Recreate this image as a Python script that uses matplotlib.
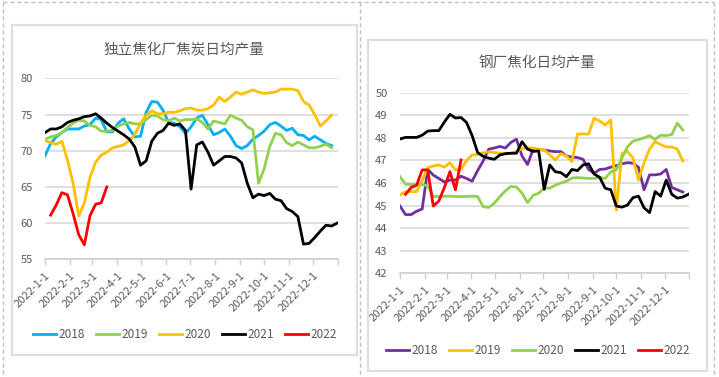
import numpy as np
import pandas as pd
import matplotlib
matplotlib.use('Agg')
import matplotlib.pyplot as plt
from matplotlib.lines import Line2D
from matplotlib.patches import Rectangle

plt.rcParams['font.family'] = ['Liberation Sans Narrow', 'Noto Sans CJK SC', 'DejaVu Sans']

# weekly dates, starting 2022-1-1
weeks = pd.date_range('2022-01-01', periods=53, freq='7D')
years = ['2018', '2019', '2020', '2021', '2022']

# 独立焦化厂焦炭日均产量
coke_2018 = [69.3, 71.0, 71.9, 72.5, 73.0, 73.0, 73.0, 73.4, 73.6, 74.5, 74.3, 72.6, 72.6, 73.8, 74.4,
             73.0, 71.9, 72.0, 75.3, 76.8, 76.7, 75.6, 73.9, 73.8, 73.3, 72.4, 73.3, 74.5, 74.9, 73.6,
             72.2, 72.5, 73.0, 72.0, 70.7, 70.3, 70.7, 71.6, 72.1, 72.7, 73.6, 73.9, 73.4, 72.8, 73.1,
             72.2, 72.1, 71.5, 72.0, 71.5, 71.0, 70.7]
coke_2019 = [71.6, 71.9, 72.1, 72.5, 73.2, 73.8, 74.2, 74.1, 73.5, 73.3, 72.7, 72.7, 72.8, 73.4, 73.7,
             73.9, 73.7, 73.7, 74.3, 74.9, 74.8, 74.3, 74.1, 74.5, 74.1, 74.3, 74.3, 74.4, 73.9, 73.0,
             74.1, 73.9, 73.7, 74.9, 74.5, 74.2, 73.3, 72.9, 65.5, 67.5, 70.6, 72.4, 72.2, 71.1, 70.7,
             71.2, 70.8, 70.4, 70.4, 70.6, 70.9, 70.4]
coke_2020 = [71.4, 71.1, 70.9, 71.3, 68.7, 65.5, 61.0, 62.8, 66.3, 68.4, 69.4, 69.8, 70.4, 70.6, 70.8,
             71.4, 72.3, 73.8, 74.9, 75.5, 75.1, 75.1, 75.3, 75.3, 75.5, 75.8, 75.9, 75.6, 75.6, 75.8,
             76.3, 77.4, 76.8, 77.4, 78.1, 77.8, 78.1, 78.4, 78.1, 77.9, 78.0, 78.1, 78.5, 78.5, 78.5,
             78.3, 76.8, 76.3, 75.0, 73.4, 74.1, 74.9]
coke_2021 = [72.5, 73.0, 73.0, 73.3, 73.9, 74.2, 74.4, 74.7, 74.8, 75.1, 74.5, 73.8, 73.2, 72.7, 72.2,
             71.6, 70.5, 68.0, 68.6, 71.3, 72.4, 72.8, 73.8, 73.5, 73.7, 72.8, 64.7, 70.8, 71.2, 69.8,
             68.0, 68.6, 69.2, 69.2, 69.0, 68.3, 65.5, 63.5, 64.0, 63.8, 64.1, 63.3, 63.1, 62.0, 61.6,
             60.9, 57.1, 57.2, 58.0, 58.9, 59.7, 59.6, 60.0]
coke_2022 = [np.nan, 61.1, 62.5, 64.2, 63.9, 61.3, 58.4, 57.0, 61.0, 62.6, 62.8, 65.0]

# 钢厂焦化日均产量
steel_2018 = [44.98, 44.6, 44.6, 44.75, 44.85, 46.6, 46.35, 46.2, 46.05, 46.13, 46.13, 46.3, 46.2, 46.08,
              46.55, 46.98, 47.5, 47.55, 47.62, 47.55, 47.8, 47.94, 47.2, 46.82, 47.5, 47.48, 47.46,
              47.42, 47.39, 47.39, 47.2, 47.14, 47.13, 47.05, 46.6, 46.43, 46.6, 46.62, 46.7, 46.77,
              46.85, 46.9, 46.88, 46.7, 45.7, 46.36, 46.36, 46.4, 46.6, 45.8, 45.7, 45.6]
steel_2019 = [45.47, 45.62, 45.62, 45.62, 46.1, 46.68, 46.75, 46.8, 46.7, 46.9, 46.58, 46.6, 47.0, 47.24,
              47.26, 47.34, 47.38, 47.35, 47.32, 47.3, 47.3, 47.39, 47.52, 47.56, 47.55, 47.5, 47.46,
              47.25, 47.02, 47.3, 47.2, 46.95, 48.17, 48.17, 48.17, 48.87, 48.75, 48.57, 48.79, 44.8,
              47.3, 47.4, 47.1, 46.13, 46.9, 47.5, 47.83, 47.7, 47.6, 47.6, 47.5, 46.97]
steel_2020 = [46.28, 45.95, 45.93, 45.93, 45.93, 45.87, 45.4, 45.4, 45.41, 45.42, 45.4, 45.4, 45.4, 45.42,
              45.4, 44.95, 44.92, 45.1, 45.4, 45.65, 45.85, 45.82, 45.55, 45.13, 45.45, 45.55, 45.77,
              45.77, 45.9, 46.0, 46.08, 46.22, 46.24, 46.22, 46.2, 46.2, 46.25, 46.2, 46.5, 46.58,
              47.1, 47.6, 47.85, 47.92, 48.0, 48.1, 47.93, 48.12, 48.1, 48.15, 48.65, 48.35]
steel_2021 = [47.95, 48.02, 48.02, 48.02, 48.12, 48.3, 48.32, 48.32, 48.7, 49.04, 48.88, 48.9, 48.68, 48.1,
              47.35, 47.18, 47.1, 47.05, 47.24, 47.3, 47.32, 47.32, 47.83, 47.5, 47.4, 47.42, 45.72,
              46.8, 46.5, 46.46, 46.28, 46.6, 46.55, 46.8, 46.85, 46.4, 46.25, 45.77, 45.7, 44.98,
              44.93, 45.02, 45.35, 45.42, 44.9, 44.69, 45.62, 45.42, 46.13, 45.5, 45.33, 45.38, 45.5]
steel_2022 = [np.nan, 45.5, 45.8, 45.9, 46.58, 46.58, 44.98, 45.2, 45.8, 46.5, 45.7, 47.02]

coke_colors = ['#00b0f0', '#92d050', '#ffc000', '#000000', '#ff0000']
steel_colors = ['#7030a0', '#ffc000', '#92d050', '#000000', '#ff0000']

month_ticks = pd.date_range('2022-01-01', periods=13, freq='MS')
month_labels = [f'2022-{d.month}-1' for d in month_ticks[:12]] + ['']

W, H = 719, 377
fig = plt.figure(figsize=(W / 100, H / 100), dpi=100)
fig.patch.set_facecolor('white')


def fx(x):
    return x / W


def fy(y):
    return 1 - y / H


# dashed frames and chart boxes
dash = dict(color='#c0c0c0', lw=1.0, ls=(0, (3, 2)), transform=fig.transFigure)
fig.add_artist(Line2D([fx(3), fx(714)], [fy(1.5), fy(1.5)], **dash))
for xv in (3, 359.5, 714):
    fig.add_artist(Line2D([fx(xv), fx(xv)], [fy(1.5), fy(377)], **dash))
fig.add_artist(Rectangle((fx(12), fy(355)), fx(356.5) - fx(12), fy(25) - fy(355),
                         transform=fig.transFigure, fill=False, ec='#dedede', lw=1.6))
fig.add_artist(Rectangle((fx(367.5), fy(370.5)), fx(707) - fx(367.5), fy(40) - fy(370.5),
                         transform=fig.transFigure, fill=False, ec='#dedede', lw=1.6))


def draw(rect, series, colors, ylim, ystep, title, title_xy, legend_xy):
    ax = fig.add_axes(rect)
    for name, vals, c in zip(years, series, colors):
        ax.plot(weeks[:len(vals)], vals, color=c, lw=2.0, label=name, solid_joinstyle='round')
    ax.set_xlim(pd.Timestamp('2022-01-01'), pd.Timestamp('2023-01-01'))
    ax.set_ylim(*ylim)
    ax.set_yticks(np.arange(ylim[0], ylim[1] + 0.1, ystep))
    ax.grid(axis='y', color='#d9d9d9', lw=1.2)
    ax.set_axisbelow(True)
    for s in ('left', 'right', 'top'):
        ax.spines[s].set_visible(False)
    ax.spines['bottom'].set_color('#d0d0d0')
    ax.spines['bottom'].set_linewidth(1.2)
    ax.set_xticks(month_ticks)
    ax.set_xticklabels(month_labels, rotation=45, ha='right', va='top',
                       rotation_mode='anchor', fontsize=8, color='#595959')
    ax.tick_params(axis='x', length=4, width=1, color='#d0d0d0', pad=4)
    ax.tick_params(axis='y', length=0, pad=9, labelsize=8, labelcolor='#595959')
    fig.text(fx(title_xy[0]), fy(title_xy[1]), title, ha='center', va='center',
             fontsize=10.5, color='#595959', family=['Noto Sans CJK SC', 'DejaVu Sans'])
    fig.legend(*ax.get_legend_handles_labels(), loc='center',
               bbox_to_anchor=(fx(legend_xy[0]), fy(legend_xy[1])), ncol=5, frameon=False,
               fontsize=8.5, handlelength=1.9, handletextpad=0.2, columnspacing=1.0,
               labelcolor='#595959')
    return ax


draw([fx(45), fy(259.3), fx(338) - fx(45), fy(78.3) - fy(259.3)],
     [coke_2018, coke_2019, coke_2020, coke_2021, coke_2022], coke_colors,
     (55, 80), 5, '独立焦化厂焦炭日均产量', (184, 49), (185, 335))
draw([fx(400), fy(273.3), fx(689.2) - fx(400), fy(92.7) - fy(273.3)],
     [steel_2018, steel_2019, steel_2020, steel_2021, steel_2022], steel_colors,
     (42, 50), 1, '钢厂焦化日均产量', (537, 63), (538, 351))

fig.savefig('out.png', dpi=100, facecolor='white')
